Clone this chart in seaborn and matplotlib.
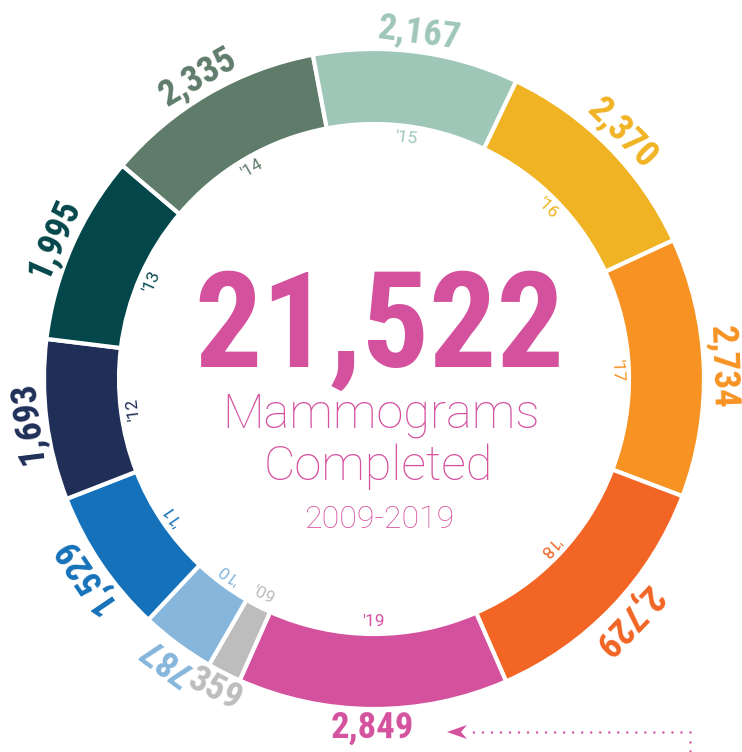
import matplotlib
matplotlib.use("Agg")
import numpy as np
import matplotlib.pyplot as plt
import seaborn as sns
from matplotlib.patches import Polygon

# Data
years = ["'09", "'10", "'11", "'12", "'13", "'14", "'15", "'16", "'17", "'18", "'19"]
counts = [359, 787, 1529, 1693, 1995, 2335, 2167, 2370, 2734, 2729, 2849]
colors = ["#BDBDBD", "#86B6DC", "#1571B9", "#1F2F58", "#04474B", "#5F7B69",
          "#9FC7B8", "#F0B323", "#F69323", "#F26524", "#D4519E"]
total_label = "21,522"
title_lines = ["Mammograms", "Completed"]
period_label = "2009-2019"

sns.set_theme(style="white")
pink = "#D4519E"
cond = ["Roboto Condensed", "Archivo Narrow", "Liberation Sans"]
light = ["Roboto", "DejaVu Sans"]

fig = plt.figure(figsize=(7.42, 7.52), dpi=100)
ax = fig.add_axes([0, 0, 1, 1])

cx, cy = 374, 752 - 379
R, W = 330, 75

wedges, _ = ax.pie(
    counts,
    colors=sns.color_palette(colors),
    startangle=-114,
    counterclock=False,
    radius=R,
    center=(cx, cy),
    wedgeprops=dict(width=W, edgecolor="white", linewidth=3),
)

# labels around the ring, tangential
for w, yr, n, c in zip(wedges, years, counts, colors):
    ang = (w.theta1 + w.theta2) / 2
    rot = ang - 90
    if abs(((ang + 90 + 180) % 360) - 180) < 30:  # keep the bottom one upright
        rot += 180
    a = np.deg2rad(ang)
    ax.text(cx + 349 * np.cos(a), cy + 349 * np.sin(a), f"{n:,}",
            rotation=rot, rotation_mode="anchor", ha="center", va="center",
            fontsize=26.5, fontweight="heavy", family=cond, color=c)
    ax.text(cx + 243 * np.cos(a), cy + 243 * np.sin(a), yr,
            rotation=rot, rotation_mode="anchor", ha="center", va="center",
            fontsize=12.5, fontweight="normal", family=light, color=c)

# centre text
ax.text(379, 385, total_label, ha="center", va="baseline", fontsize=96,
        fontweight="heavy", family=cond, color=pink)
ax.text(381, 324, title_lines[0], ha="center", va="baseline", fontsize=35,
        fontweight="light", family=light, color=pink)
ax.text(378, 272, title_lines[1], ha="center", va="baseline", fontsize=35,
        fontweight="light", family=light, color=pink)
ax.text(379, 224, period_label, ha="center", va="baseline", fontsize=23,
        fontweight="light", family=light, color=pink)

# dotted pointer to the latest year
dots = dict(color=pink, lw=1.8, linestyle=(0, (0.01, 3.6)), dash_capstyle="round")
ax.plot([690, 472], [20, 20], **dots)
ax.plot([690, 690], [10, -5], **dots)
ax.add_patch(Polygon([(447, 20), (467, 27), (461, 20), (467, 13)], closed=True,
                     color=pink, lw=0))

ax.set_xlim(0, 742)
ax.set_ylim(0, 752)
ax.set_aspect("equal")
ax.axis("off")

fig.savefig("out.png", dpi=100)
